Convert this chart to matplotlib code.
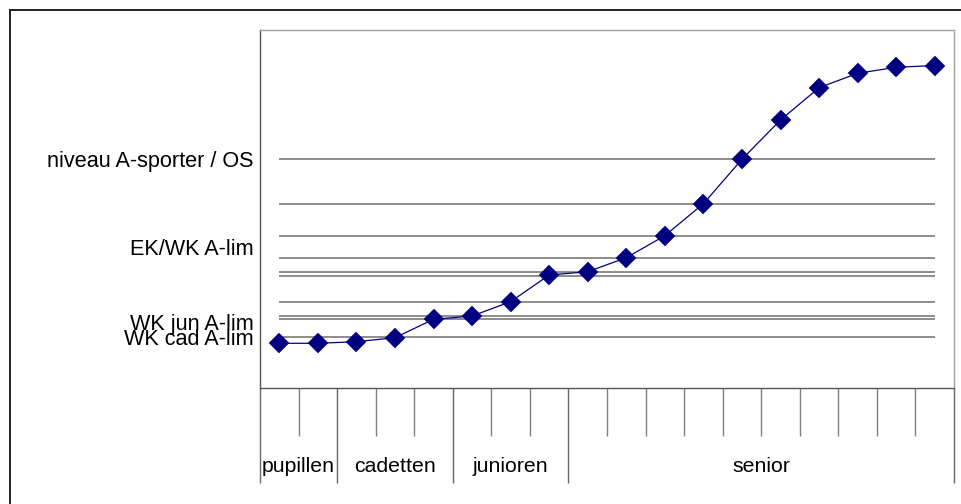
import matplotlib
matplotlib.use("Agg")
import matplotlib.pyplot as plt
from matplotlib.lines import Line2D

plt.rcParams['font.family'] = ['Liberation Sans', 'DejaVu Sans']

# ---- data ----
n_categories = 18
positions = list(range(n_categories))
performance = [12.49, 12.49, 12.93, 14.05, 19.19, 20.11, 24.11, 31.56, 32.49,
               36.40, 42.54, 51.48, 63.88, 74.86, 83.88, 87.91, 89.58, 90.08]
reference_levels = [63.88, 51.48, 42.54, 36.40, 32.49, 31.37, 24.11, 20.11, 19.19, 14.25]
ytick_values = [63.88, 39.30, 18.52, 14.16]
ytick_labels = ["niveau A-sporter / OS", "EK/WK A-lim", "WK jun A-lim", "WK cad A-lim"]
groups = ["pupillen", "cadetten", "junioren", "senior"]
group_sizes = [2, 3, 3, 10]

W, H = 962, 504
fig = plt.figure(figsize=(W / 100, H / 100), dpi=100)
fig.patch.set_facecolor('white')

# outer frame (only top and left visible)
fig.add_artist(Line2D([10 / W, 10 / W], [0, 1 - 10 / H], transform=fig.transFigure,
                      color='#222222', lw=1.4))
fig.add_artist(Line2D([10 / W, 1], [1 - 10 / H, 1 - 10 / H], transform=fig.transFigure,
                      color='#222222', lw=1.4))

left, right, top, bottom = 260, 954, 30, 388
ax = fig.add_axes([left / W, 1 - bottom / H, (right - left) / W, (bottom - top) / H])
ax.set_xlim(-0.5, n_categories - 0.5)
ax.set_ylim(0, 100)

for lvl in reference_levels:
    ax.plot([positions[0], positions[-1]], [lvl, lvl], color='#6e6e6e', lw=1.1,
            solid_capstyle='butt', zorder=2)

ax.plot(positions, performance, color='#000080', lw=0.9, marker='D', markersize=10,
        markerfacecolor='#000080', markeredgecolor='#000080', markeredgewidth=0.3, zorder=3)

# spines
ax.spines['left'].set_color('#555555')
ax.spines['bottom'].set_color('#555555')
ax.spines['top'].set_color('#a0a0a0')
ax.spines['right'].set_color('#a0a0a0')
for s in ax.spines.values():
    s.set_linewidth(1.0)

# y ticks
ax.set_yticks(ytick_values)
ax.set_yticklabels(ytick_labels, fontsize=15.6)
ax.tick_params(axis='y', length=0, pad=4.5)

# x ticks: category boundaries
bounds = [i - 0.5 for i in range(n_categories + 1)]
group_bounds = [-0.5]
for s in group_sizes:
    group_bounds.append(group_bounds[-1] + s)
minor_bounds = [b for b in bounds if b not in group_bounds]
ax.set_xticks(group_bounds)
ax.set_xticklabels([''] * len(group_bounds))
ax.set_xticks(minor_bounds, minor=True)
px2pt = 72 / 100
ax.tick_params(axis='x', which='major', direction='out', length=95 * px2pt,
               color='#666666', width=1.0)
ax.tick_params(axis='x', which='minor', direction='out', length=48 * px2pt,
               color='#808080', width=1.0)

# group labels
label_y = (bottom - 467) / (bottom - top)
for g, a, b in zip(groups, group_bounds[:-1], group_bounds[1:]):
    ax.text((a + b) / 2, label_y, g, transform=ax.get_xaxis_transform(),
            ha='center', va='center', fontsize=15.3, color='black')

fig.savefig('out.png', dpi=100, facecolor='white')
